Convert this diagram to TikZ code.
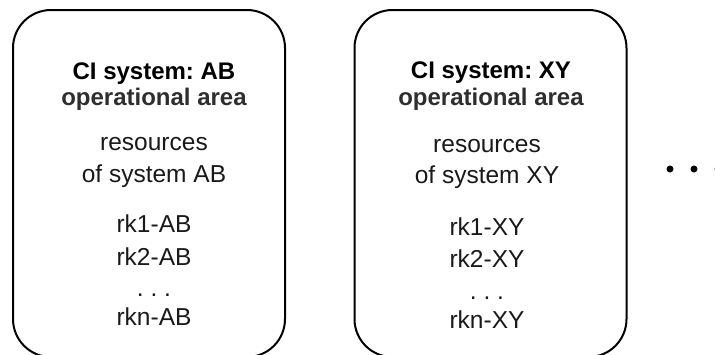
\documentclass[tikz,border=0pt]{standalone}
\usepackage{fontspec}
\setmainfont{Liberation Sans}
\frenchspacing
\begin{document}
\begin{tikzpicture}[x=1pt,y=-1pt,
  sysbox/.style={draw=black,line width=2pt,rounded corners=38pt,minimum width=272pt,minimum height=347pt,inner sep=0pt},
  ttl/.style={anchor=base,inner sep=0pt,font=\fontsize{24}{24}\selectfont\bfseries},
  ttlb/.style={ttl,text=black!82},
  body/.style={anchor=base,inner sep=0pt,font=\fontsize{24.5}{24}\selectfont,text=black!90},
  moredot/.style={circle,fill=black,inner sep=0pt,minimum size=7pt}]
\useasboundingbox (0,0) rectangle (715,354);
% box 1
\node[sysbox] (box1) at (149,183.5) {};
\node[ttl]  (t1a) at (154,79)  {CI system: AB};
\node[ttlb] (t1b) at (154,105) {operational area};
\node[body] (r1a) at (154,150) {resources};
\node[body] (r1b) at (154,182) {of system AB};
\node[body] (k1a) at (154,232) {rk1-AB};
\node[body] (k1b) at (154,265) {rk2-AB};
\node[body] (d1)  at (154,296) {. . .};
\node[body] (k1n) at (154,325) {rkn-AB};
% box 2
\node[sysbox] (box2) at (490.5,183.5) {};
\node[ttl]  (t2a) at (491,78)  {CI system: XY};
\node[ttlb] (t2b) at (491,105) {operational area};
\node[body] (r2a) at (487,152) {resources};
\node[body] (r2b) at (487,183) {of system XY};
\node[body] (k2a) at (487,235) {rk1-XY};
\node[body] (k2b) at (487,267) {rk2-XY};
\node[body] (d2)  at (487,299) {. . .};
\node[body] (k2n) at (487,328) {rkn-XY};
% continuation dots
\node[moredot] (e1) at (670,169) {};
\node[moredot] (e2) at (694,169) {};
\node[moredot] (e3) at (718,169) {};
\end{tikzpicture}
\end{document}
